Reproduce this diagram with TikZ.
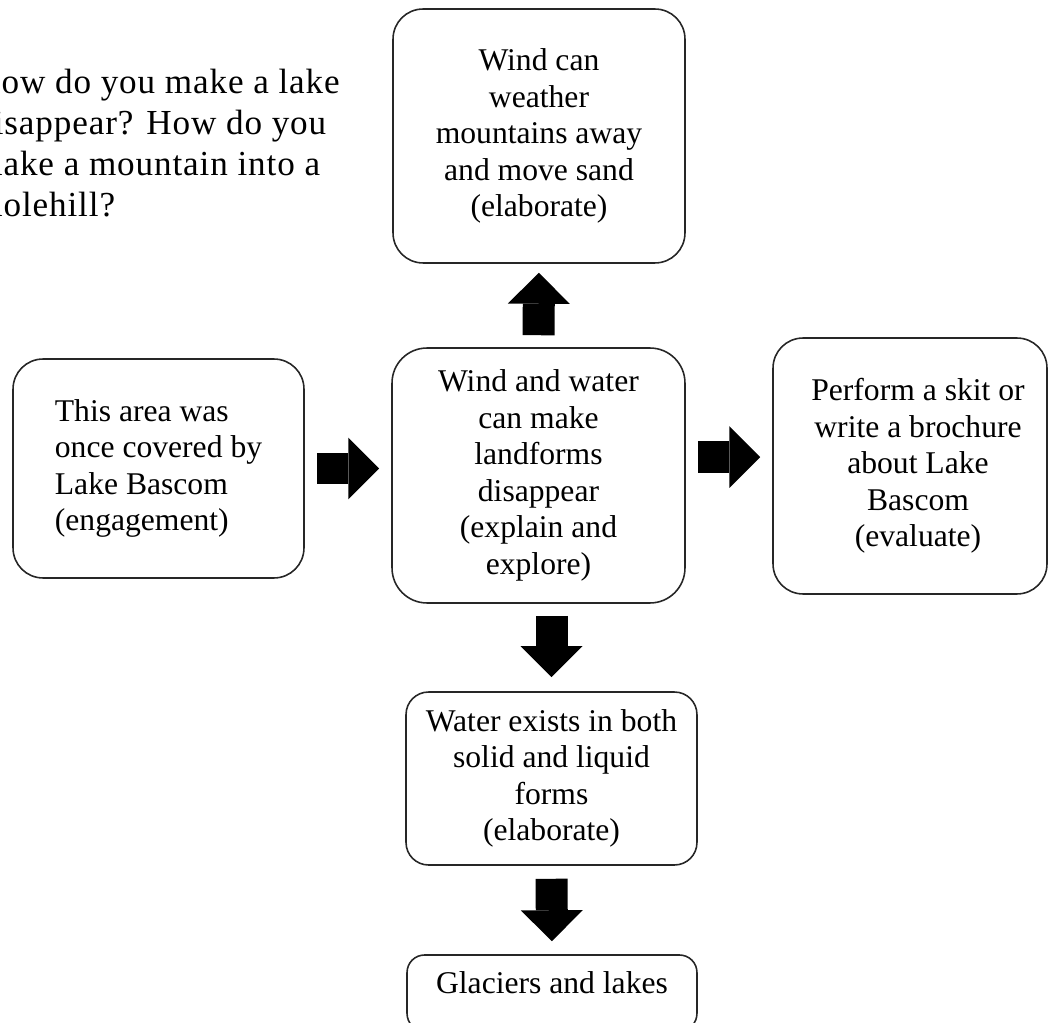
\documentclass[tikz,border=0pt]{standalone}
\usepackage{fontspec}
\setmainfont{Liberation Serif}
\usetikzlibrary{arrows.meta}

\tikzset{
    box/.style={draw=black!85, line width=0.9pt, rounded corners=0.6cm, align=center, inner sep=0pt},
    bigarrow/.style={line width=0.64cm, -{Triangle[width=1.24cm,length=0.62cm,line width=0pt]},
        shorten <=0.24cm, shorten >=0.24cm}
}

\begin{document}
\begin{tikzpicture}[x=0.02cm, y=-0.02cm, font=\fontsize{18}{20.8}\selectfont]
    % page, 1048 x 1023
    \useasboundingbox (0,0) rectangle (1048,1023);
    % question, cut at the left edge (base is the last line)
    \node[anchor=base west, align=left, inner sep=0pt,
        font=\fontsize{20}{23.4}\selectfont\addfontfeature{LetterSpace=2.5}] (question) at (-25,217)
        {How do you make a lake\\disappear? How do you\\make a mountain into a\\molehill?};

    % middle box
    \node[box, rounded corners=0.7cm, minimum width=5.86cm, minimum height=5.1cm] (explain) at (538.5,475.5)
        {Wind and water\\can make\\landforms\\disappear\\(explain and\\explore)};
    % top box
    \node[box, minimum width=5.84cm, minimum height=5.08cm] (elab) at (539,136)
        {Wind can\\weather\\mountains away\\and move sand\\(elaborate)};
    % left box
    \node[box, align=left, minimum width=5.82cm, minimum height=4.38cm] (engage) at (158.5,468.5)
        {This area was\\once covered by\\Lake Bascom\\(engagement)};
    % right box, text a bit right of centre
    \node[box, minimum width=5.48cm, minimum height=5.12cm] (eval) at (910,466) {};
    \node[align=center, inner sep=0pt] (evaltext) at ([xshift=0.16cm]eval.center)
        {Perform a skit or\\write a brochure\\about Lake\\Bascom\\(evaluate)};
    % water box
    \node[box, rounded corners=0.45cm, minimum width=5.82cm, minimum height=3.46cm] (water) at (551.5,778.5)
        {Water exists in both\\solid and liquid\\forms\\(elaborate)};
    % last box, cut at the bottom edge
    \node[box, rounded corners=0.35cm, minimum width=5.8cm, text height=0.5cm, text depth=0.5cm,
        inner ysep=0.26cm, anchor=base] (glacier) at (552,993) {Glaciers and lakes};

    % block arrows
    \coordinate (toeval) at ([yshift=0.37cm]explain.east);
    \draw[bigarrow] (engage.east) -- (engage.east -| explain.west);
    \draw[bigarrow] (toeval) -- (toeval -| eval.west);
    \draw[bigarrow, shorten >=0.18cm] (explain.north) -- (elab.south);
    \draw[bigarrow, shorten >=0.28cm] (water.north |- explain.south) -- (water.north);
    \draw[bigarrow, shorten <=0.26cm, shorten >=0.26cm] (water.south) -- (glacier.north);
\end{tikzpicture}
\end{document}
